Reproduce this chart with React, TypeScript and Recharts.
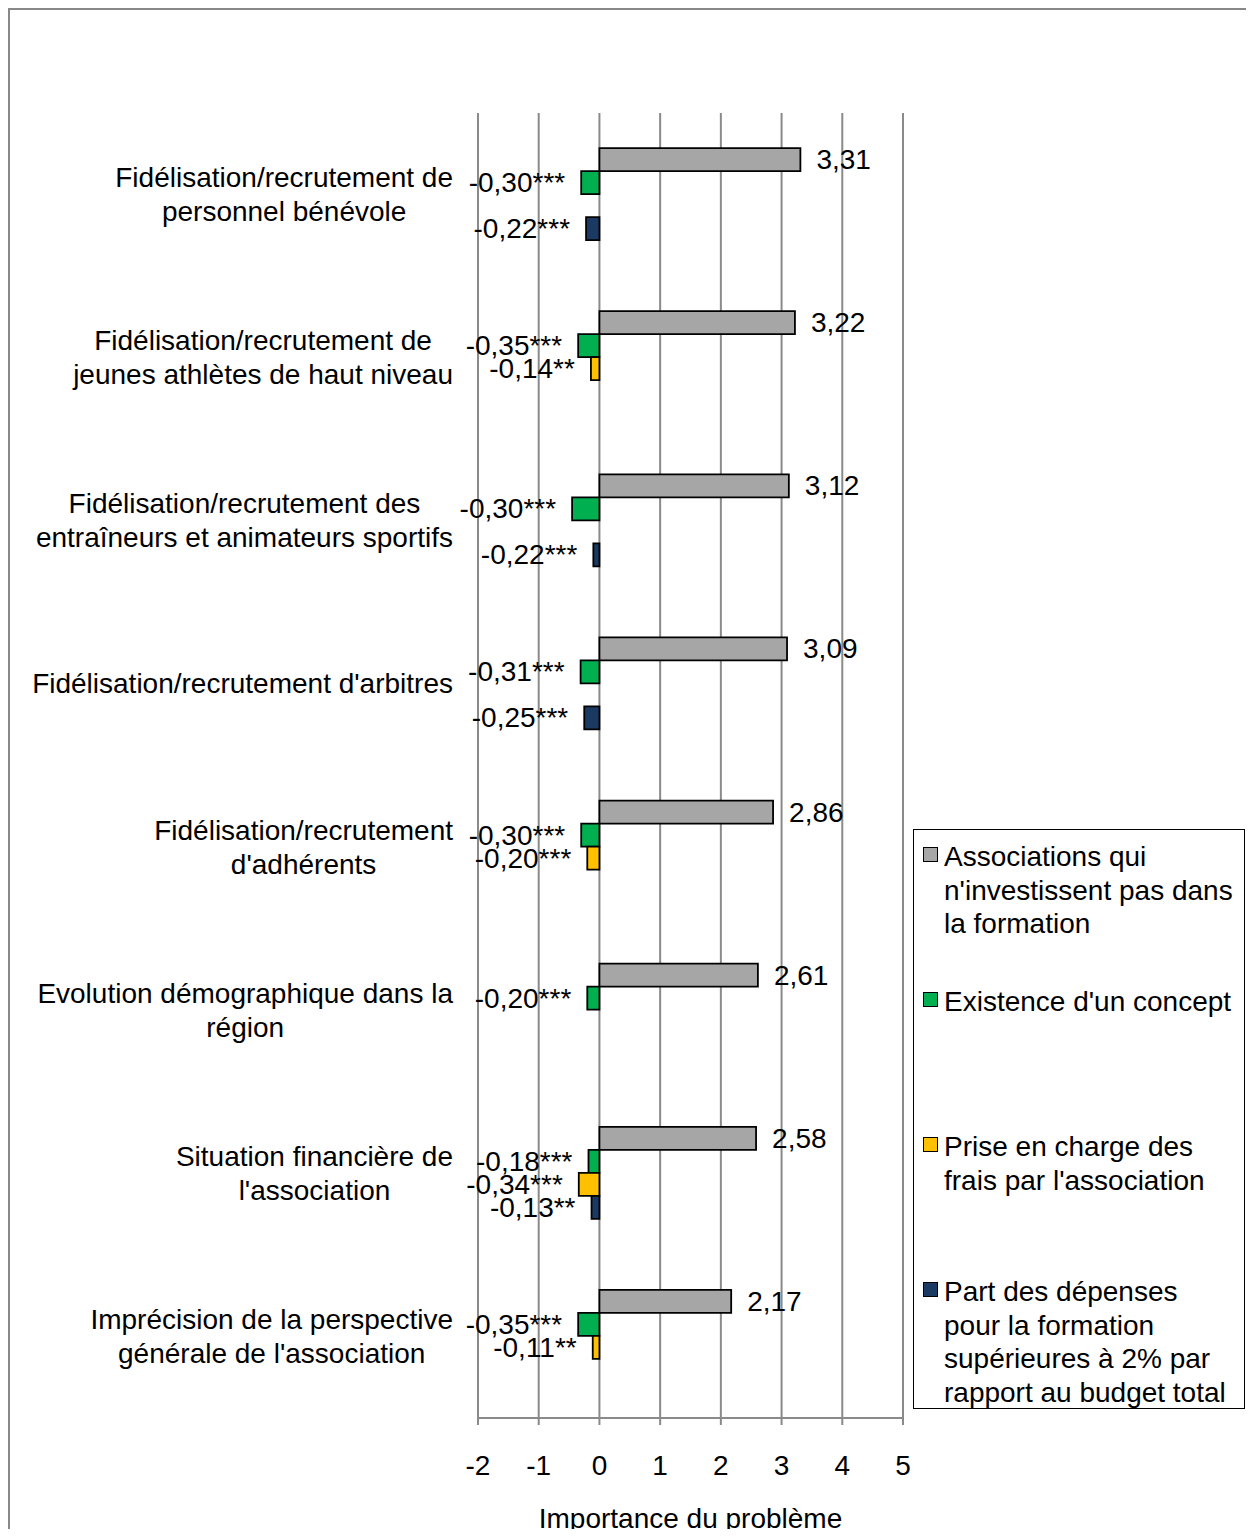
import React from 'react';
import { BarChart, Bar, XAxis, YAxis, CartesianGrid, Legend, LabelList } from 'recharts';

const FONT = "'Liberation Sans', Arial, sans-serif";
const FS = 28;

const categories = [
  "Fidélisation/recrutement de\npersonnel bénévole",
  "Fidélisation/recrutement de\njeunes athlètes de haut niveau",
  "Fidélisation/recrutement des\nentraîneurs et animateurs sportifs",
  "Fidélisation/recrutement d'arbitres",
  "Fidélisation/recrutement\nd'adhérents",
  "Evolution démographique dans la\nrégion",
  "Situation financière de\nl'association",
  "Imprécision de la perspective\ngénérale de l'association",
];

const grayValues = [3.31, 3.22, 3.12, 3.09, 2.86, 2.61, 2.58, 2.17];
const greenValues = [-0.30, -0.35, -0.45, -0.31, -0.30, -0.20, -0.18, -0.35];
const yellowValues = [null, -0.14, null, null, -0.20, null, -0.34, -0.11];
const blueValues = [-0.22, null, -0.10, -0.25, null, null, -0.13, null];

const greenLabels = ["-0,30***", "-0,35***", "-0,30***", "-0,31***", "-0,30***", "-0,20***", "-0,18***", "-0,35***"];
const yellowLabels = [null, "-0,14**", null, null, "-0,20***", null, "-0,34***", "-0,11**"];
const blueLabels = ["-0,22***", null, "-0,22***", "-0,25***", null, null, "-0,13**", null];

const xTicks = [-2, -1, 0, 1, 2, 3, 4, 5];

const seriesNames = [
  "Associations qui\nn'investissent pas dans\nla formation",
  "Existence d'un concept",
  "Prise en charge des\nfrais par l'association",
  "Part des dépenses\npour la formation\nsupérieures à 2% par\nrapport au budget total",
];
const seriesColors = ["#a6a6a6", "#00b050", "#ffc000", "#1b3a63"];
const axisTitle = "Importance du problème";

const data = categories.map((name, i) => ({
  name,
  gray: grayValues[i],
  green: greenValues[i],
  yellow: yellowValues[i],
  blue: blueValues[i],
  greenLabel: greenLabels[i],
  yellowLabel: yellowLabels[i],
  blueLabel: blueLabels[i],
}));

let ctx: CanvasRenderingContext2D | null = null;
const measure = (s: string) => {
  if (!ctx) {
    const c = document.createElement('canvas');
    ctx = c.getContext('2d');
  }
  if (!ctx) return s.length * FS * 0.5;
  ctx.font = `${FS}px ${FONT}`;
  return ctx.measureText(s).width;
};

const CategoryTick = (props: any) => {
  const { x, y, payload } = props;
  const lines = String(payload.value).split('\n');
  const maxW = Math.max(...lines.map(measure));
  const right = x - 25;
  const cx = right - maxW / 2;
  const lh = 34;
  const startY = y - ((lines.length - 1) * lh) / 2;
  return (
    <g>
      {lines.map((l, i) => (
        <text key={i} x={cx} y={startY + i * lh} textAnchor="middle" dominantBaseline="central"
          fontSize={FS} fontFamily={FONT} fill="#000">{l}</text>
      ))}
    </g>
  );
};

const XTick = (props: any) => {
  const { x, y, payload } = props;
  return (
    <text x={x} y={y + 40} textAnchor="middle" dominantBaseline="central" fontSize={FS} fontFamily={FONT} fill="#000">
      {payload.value}
    </text>
  );
};

const getBox = (props: any) => {
  const vb = props.viewBox && props.viewBox.width !== undefined ? props.viewBox : props;
  const x = Number(vb.x), y = Number(vb.y), w = Number(vb.width), h = Number(vb.height);
  return { left: Math.min(x, x + w), right: Math.max(x, x + w), cy: y + h / 2 };
};

const PosLabel = (props: any) => {
  const { value } = props;
  if (value === null || value === undefined) return null;
  const b = getBox(props);
  return (
    <text x={b.right + 16} y={b.cy} textAnchor="start" dominantBaseline="central" fontSize={FS} fontFamily={FONT} fill="#000">
      {Number(value).toFixed(2).replace('.', ',')}
    </text>
  );
};

const NegLabel = (props: any) => {
  const { value } = props;
  if (value === null || value === undefined) return null;
  const b = getBox(props);
  return (
    <text x={b.left - 16} y={b.cy} textAnchor="end" dominantBaseline="central" fontSize={FS} fontFamily={FONT} fill="#000">
      {value}
    </text>
  );
};

const AxisTitle = (props: any) => {
  const vb = props.viewBox;
  return (
    <text x={vb.x + vb.width / 2} y={vb.y + 100} textAnchor="middle" dominantBaseline="central" fontSize={FS} fontFamily={FONT} fill="#000">
      {axisTitle}
    </text>
  );
};

const renderLegend = () => (
  <div style={{ position: 'relative', width: 332, height: 580, boxSizing: 'border-box', border: '1.5px solid #000', background: '#fff', fontFamily: FONT, fontSize: FS, color: '#000' }}>
    {seriesNames.map((n, i) => {
      const c = 27 + i * 145;
      return (
        <React.Fragment key={i}>
          <div style={{ position: 'absolute', left: 9, top: c - 10, width: 15, height: 15, boxSizing: 'border-box', border: '1.5px solid #000', background: seriesColors[i] }} />
          {n.split('\n').map((l, j) => (
            <div key={j} style={{ position: 'absolute', left: 30, top: c - 16.75 + j * 33.5, lineHeight: '33.5px', whiteSpace: 'pre' }}>{l}</div>
          ))}
        </React.Fragment>
      );
    })}
  </div>
);

export default function App() {
  return (
    <div style={{ width: 1238, height: 1529, marginBottom: -8, boxSizing: 'border-box', borderTop: '2px solid #888', borderLeft: '2px solid #888', fontFamily: FONT, background: '#fff', overflow: 'hidden' }}>
      <BarChart width={1236} height={1527} data={data} layout="vertical"
        margin={{ top: 103, right: 343, bottom: 8, left: 0 }} barCategoryGap="21.5%" barGap={0}>
        <CartesianGrid horizontal={false} vertical={true} stroke="#8a8a8a" strokeWidth={2} />
        <XAxis type="number" domain={[-2, 5]} ticks={xTicks} interval={0} height={111}
          axisLine={{ stroke: '#8a8a8a', strokeWidth: 2 }} tickLine={{ stroke: '#8a8a8a', strokeWidth: 2 }}
          tickSize={7} tickMargin={0} tick={<XTick />} label={<AxisTitle />} />
        <YAxis type="category" dataKey="name" width={468} axisLine={false} tickLine={false}
          tickSize={0} tickMargin={0} interval={0} tick={<CategoryTick />} />
        <Legend content={renderLegend} layout="horizontal" align="center" verticalAlign="middle"
          wrapperStyle={{ left: 903, top: 819, width: 332, height: 580 }} />
        <Bar dataKey="gray" name="Associations qui n'investissent pas dans la formation" fill={seriesColors[0]} stroke="#000" strokeWidth={1.8} isAnimationActive={false}>
          <LabelList dataKey="gray" content={<PosLabel />} />
        </Bar>
        <Bar dataKey="green" name="Existence d'un concept" fill={seriesColors[1]} stroke="#000" strokeWidth={1.8} isAnimationActive={false}>
          <LabelList dataKey="greenLabel" content={<NegLabel />} />
        </Bar>
        <Bar dataKey="yellow" name="Prise en charge des frais par l'association" fill={seriesColors[2]} stroke="#000" strokeWidth={1.8} isAnimationActive={false}>
          <LabelList dataKey="yellowLabel" content={<NegLabel />} />
        </Bar>
        <Bar dataKey="blue" name="Part des dépenses pour la formation supérieures à 2% par rapport au budget total" fill={seriesColors[3]} stroke="#000" strokeWidth={1.8} isAnimationActive={false}>
          <LabelList dataKey="blueLabel" content={<NegLabel />} />
        </Bar>
      </BarChart>
    </div>
  );
}
